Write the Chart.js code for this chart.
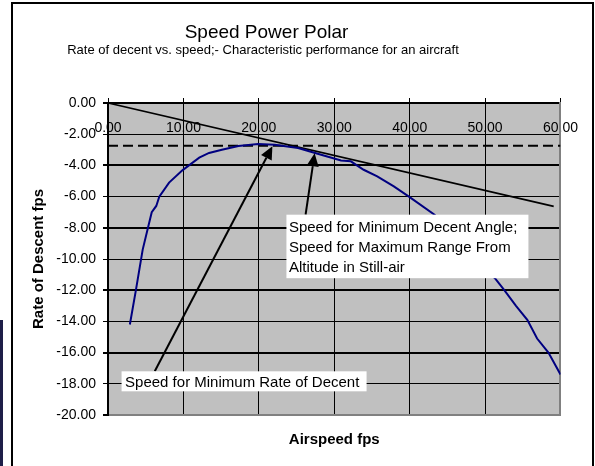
<!DOCTYPE html>
<html><head><meta charset="utf-8">
<script src="https://cdn.jsdelivr.net/npm/chart.js@4"></script>
<style>html,body{margin:0;padding:0;background:#fff;}#wrap{width:595px;height:466px;}</style>
</head><body><div id="wrap"><canvas id="c" width="595" height="466"></canvas></div>
<script>
// ---- data ----
const polarSpeed = [2.9, 3.7, 4.6, 5.3, 5.8, 6.4, 6.8, 8.1, 9.9, 12.1, 13.4, 15.1, 17.3, 19.9, 22.1, 25.2, 27.8, 30.9, 32.2, 33.9, 35.7, 37.9, 40.0, 43.3, 51.3, 52.5, 54.1, 55.6, 56.9, 58.4, 60.0];
const polarSink  = [-14.2, -12.0, -9.4, -8.0, -7.0, -6.6, -6.0, -5.1, -4.3, -3.5, -3.2, -3.0, -2.76, -2.63, -2.67, -2.88, -3.25, -3.68, -3.74, -4.28, -4.7, -5.35, -6.03, -7.16, -11.23, -11.97, -13.0, -13.9, -15.1, -16.0, -17.4];
const tangentSpeed = [0, 59.1];
const tangentSink  = [0, -6.63];
const levelSpeed = [0, 60];
const levelSink  = [-2.74, -2.74];
const arrowTailSpeed = [6.2, 26.2];
const arrowTailSink  = [-17.2, -7.16];
const arrowTipSpeed  = [21.8, 27.4];
const arrowTipSink   = [-2.77, -3.22];
const noteTexts = [
  ["Speed for Minimum Rate of Decent"],
  ["Speed for Minimum Decent Angle;", "Speed for Maximum Range From", "Altitude in Still-air"]
];
const xTickValues = [0, 10, 20, 30, 40, 50, 60];
const yTickValues = [-20, -18, -16, -14, -12, -10, -8, -6, -4, -2, 0];
const titleText = "Speed Power Polar";
const subtitleText = "Rate of decent vs. speed;- Characteristic performance for an aircraft";
const xTitle = "Airspeed fps";
const yTitle = "Rate of Descent fps";

// ---- layout / styles ----
const FAM = '"Liberation Sans", Arial, Helvetica, sans-serif';
const noteLayout = [
  {x: 1.8, y: -17.2, w: 245, h: 20, tx: 3.5, lines: [15.5]},
  {x: 23.66, y: -7.16, w: 242, h: 63.5, tx: 2.5, lines: [17.3, 37.3, 57.3]}
];

const pts = (xs, ys) => xs.map((v, i) => ({x: v, y: ys[i]}));

const deco = {
  id: 'deco',
  beforeDraw(chart) {
    const {ctx, chartArea: a} = chart;
    ctx.save();
    ctx.fillStyle = '#fff';
    ctx.fillRect(0, 0, chart.width, chart.height);
    ctx.fillStyle = '#1e1e48';
    ctx.fillRect(0, 320, 3, 146);
    ctx.strokeStyle = '#000';
    ctx.lineWidth = 2;
    ctx.strokeRect(12, 3, 581, 520);
    ctx.fillStyle = '#c0c0c0';
    ctx.fillRect(a.left, a.top, a.right - a.left, a.bottom - a.top);
    ctx.fillStyle = '#000';
    ctx.textAlign = 'center';
    ctx.textBaseline = 'alphabetic';
    ctx.font = '19px ' + FAM;
    ctx.fillText(titleText, 266.5, 37.5);
    ctx.font = '13px ' + FAM;
    ctx.fillText(subtitleText, 263, 53.5);
    ctx.restore();
  },
  afterDatasetsDraw(chart) {
    const {ctx, scales: {x, y}} = chart;
    ctx.save();
    // arrows
    for (let i = 0; i < arrowTailSpeed.length; i++) {
      const fx = x.getPixelForValue(arrowTailSpeed[i]), fy = y.getPixelForValue(arrowTailSink[i]);
      const tx = x.getPixelForValue(arrowTipSpeed[i]), ty = y.getPixelForValue(arrowTipSink[i]);
      const ang = Math.atan2(ty - fy, tx - fx);
      const L = 13, W = 6;
      const bx = tx - L * Math.cos(ang), by = ty - L * Math.sin(ang);
      ctx.strokeStyle = '#000';
      ctx.lineWidth = 2;
      ctx.beginPath(); ctx.moveTo(fx, fy); ctx.lineTo(bx, by); ctx.stroke();
      ctx.fillStyle = '#000';
      ctx.beginPath();
      ctx.moveTo(tx, ty);
      ctx.lineTo(bx + W * Math.sin(ang), by - W * Math.cos(ang));
      ctx.lineTo(bx - W * Math.sin(ang), by + W * Math.cos(ang));
      ctx.closePath(); ctx.fill();
    }
    // note boxes
    noteLayout.forEach((n, i) => {
      const left = x.getPixelForValue(n.x), top = y.getPixelForValue(n.y);
      ctx.fillStyle = '#fff';
      ctx.fillRect(left, top, n.w, n.h);
      ctx.fillStyle = '#000';
      ctx.font = '15px ' + FAM;
      ctx.textAlign = 'left';
      ctx.textBaseline = 'alphabetic';
      noteTexts[i].forEach((t, j) => ctx.fillText(t, left + n.tx, top + n.lines[j]));
    });
    ctx.restore();
  }
};

new Chart(document.getElementById('c'), {
  type: 'line',
  data: {
    datasets: [
      {data: pts(polarSpeed, polarSink), borderColor: '#000080', borderWidth: 2, pointRadius: 0, tension: 0, fill: false},
      {data: pts(tangentSpeed, tangentSink), borderColor: '#000', borderWidth: 1.7, pointRadius: 0, fill: false},
      {data: pts(levelSpeed, levelSink), borderColor: '#000', borderWidth: 2, borderDash: [10, 5], pointRadius: 0, fill: false}
    ]
  },
  options: {
    responsive: false,
    animation: false,
    events: [],
    layout: {padding: {left: 25, right: 29, top: 98, bottom: 13}},
    plugins: {legend: {display: false}, tooltip: {enabled: false}, title: {display: false}},
    scales: {
      x: {
        type: 'linear', axis: 'x', position: {y: 0}, min: 0, max: 60,
        afterBuildTicks: s => { s.ticks = xTickValues.map(v => ({value: v})); },
        ticks: {autoSkip: false, maxRotation: 0, padding: 17, color: '#000', font: {size: 14, family: FAM}, callback: v => Number(v).toFixed(2)},
        grid: {color: c => (c.tick && c.tick.value === 60) ? '#808080' : '#000', lineWidth: c => (c.tick && c.tick.value === 60) ? 2 : 1, drawTicks: false},
        border: {display: true, color: '#000', width: 2}
      },
      x2: {
        type: 'linear', axis: 'x', position: 'top', min: 0, max: 60,
        afterBuildTicks: s => { s.ticks = xTickValues.map(v => ({value: v})); },
        ticks: {display: false},
        grid: {drawOnChartArea: false, drawTicks: true, tickLength: 5, color: '#000', lineWidth: 1},
        border: {display: false}
      },
      xb: {
        type: 'linear', axis: 'x', position: 'bottom', min: 0, max: 60,
        ticks: {display: false},
        grid: {display: false, drawTicks: false},
        border: {display: true, color: '#808080', width: 2},
        title: {display: true, text: xTitle, color: '#000', font: {size: 15, weight: 'bold', family: FAM}, padding: {top: 16, bottom: 4}}
      },
      y: {
        type: 'linear', axis: 'y', position: 'left', min: -20, max: 0,
        afterBuildTicks: s => { s.ticks = yTickValues.map(v => ({value: v})); },
        afterFit: s => { s.width = 83; },
        ticks: {padding: 7, color: '#000', font: {size: 14, family: FAM}, callback: v => Number(v).toFixed(2)},
        grid: {color: c => (c.tick && c.tick.value === -20) ? '#808080' : '#000', lineWidth: c => (c.tick && c.tick.value % 4 === 0) ? 2 : 1, tickColor: '#000', tickLength: 5},
        border: {display: true, color: '#000', width: 2},
        title: {display: true, text: yTitle, color: '#000', font: {size: 15, weight: 'bold', family: FAM}, padding: {top: 5, bottom: 0}}
      },
      y2: {
        type: 'linear', axis: 'y', position: 'right', min: -20, max: 0,
        ticks: {display: false},
        grid: {drawOnChartArea: false, drawTicks: false},
        border: {display: true, color: '#808080', width: 2}
      }
    }
  },
  plugins: [deco]
});
</script>
</body></html>
